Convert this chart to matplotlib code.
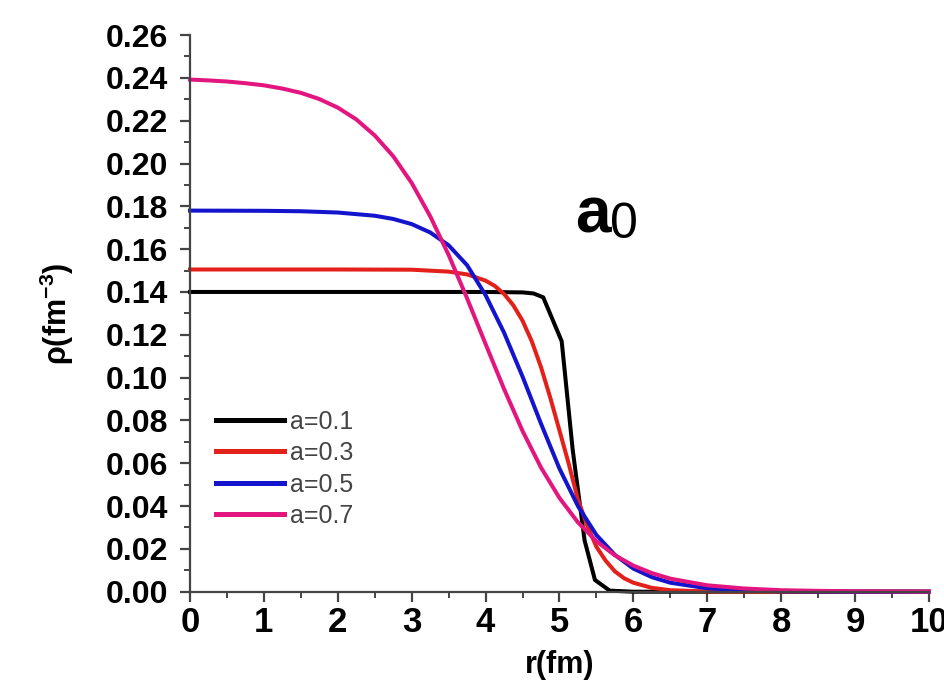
import matplotlib
matplotlib.use("Agg")
import matplotlib.pyplot as plt
from matplotlib.ticker import MultipleLocator

plt.rcParams['font.family'] = ['Liberation Sans', 'DejaVu Sans']
plt.rcParams['mathtext.fontset'] = 'custom'
plt.rcParams['mathtext.bf'] = 'Liberation Sans:bold'
plt.rcParams['mathtext.rm'] = 'Liberation Sans'

# values
r_a01 = [0, 1, 2, 3, 4, 4.5, 4.65, 4.78, 5.03, 5.18, 5.34, 5.48, 5.68, 6, 10]
rho_a01 = [0.140, 0.140, 0.140, 0.140, 0.140, 0.1398, 0.1393, 0.1375, 0.117, 0.066, 0.024, 0.0055,
           0.0005, 0.0, 0.0]

r_a03 = [0, 1, 2, 3, 3.5, 3.75, 4.0, 4.125, 4.25, 4.375, 4.5, 4.625, 4.75, 4.875, 5.0, 5.125,
         5.25, 5.375, 5.5, 5.625, 5.75, 5.875, 6.0, 6.25, 6.5, 7, 8, 10]
rho_a03 = [0.1505, 0.1505, 0.1505, 0.1504, 0.1495, 0.1482, 0.1453, 0.1428, 0.1391, 0.1338, 0.1266,
           0.1170, 0.1049, 0.0907, 0.0753, 0.0598, 0.043, 0.031, 0.021, 0.0145, 0.0095, 0.0063,
           0.0042, 0.0018, 0.0007, 0.0001, 0.0, 0.0]

r_a05 = [0, 1, 1.5, 2, 2.5, 2.75, 3.0, 3.25, 3.5, 3.75, 4.0, 4.25, 4.5, 4.75, 5.0, 5.25, 5.5, 5.75,
         6.0, 6.25, 6.5, 7, 7.5, 8, 9, 10]
rho_a05 = [0.178, 0.1779, 0.1777, 0.1771, 0.1756, 0.1741, 0.1717, 0.1678, 0.1618, 0.1525, 0.1385,
           0.121, 0.1005, 0.0785, 0.0575, 0.040, 0.0265, 0.0172, 0.0108, 0.0068, 0.0042, 0.0016,
           0.0006, 0.0002, 0.00003, 0.0]

r_a07 = [0, 0.25, 0.5, 0.75, 1.0, 1.25, 1.5, 1.75, 2.0, 2.25, 2.5, 2.75, 3.0, 3.25, 3.5, 3.75, 4.0,
         4.25, 4.5, 4.75, 5.0, 5.25, 5.5, 5.75, 6.0, 6.25, 6.5, 7.0, 7.5, 8, 8.5, 9, 10]
rho_a07 = [0.2392, 0.2388, 0.2383, 0.2375, 0.2365, 0.2350, 0.2330, 0.2301, 0.2261, 0.2206, 0.2131,
           0.2034, 0.1909, 0.1754, 0.1573, 0.1370, 0.1157, 0.0947, 0.0751, 0.0580, 0.0438, 0.0324,
           0.0236, 0.0170, 0.0122, 0.0087, 0.0061, 0.0030, 0.0015, 0.0007, 0.0004, 0.0002, 0.0]

labels = ['a=0.1', 'a=0.3', 'a=0.5', 'a=0.7']
colors = ['#000000', '#e4201b', '#1414cc', '#e2167e']

fig = plt.figure(figsize=(9.44, 6.87), dpi=100)
ax = fig.add_axes([0.2013, 0.1387, 0.7827, 0.8103])

series = [(r_a01, rho_a01), (r_a03, rho_a03), (r_a05, rho_a05), (r_a07, rho_a07)]
for (r, rho), lab, c in zip(series, labels, colors):
    ax.plot(r, rho, color=c, lw=2.9, label=lab, solid_joinstyle='round', clip_on=False)

ax.set_xlim(0, 10)
ax.set_ylim(0, 0.26)
ax.xaxis.set_major_locator(MultipleLocator(1))
ax.xaxis.set_minor_locator(MultipleLocator(0.5))
ax.yaxis.set_major_locator(MultipleLocator(0.02))
ax.yaxis.set_minor_locator(MultipleLocator(0.01))
ax.yaxis.set_major_formatter(plt.FormatStrFormatter('%.2f'))

for s in ['top', 'right']:
    ax.spines[s].set_visible(False)
for s in ['left', 'bottom']:
    ax.spines[s].set_color('#444444')
    ax.spines[s].set_linewidth(1.6)

ax.tick_params(which='major', direction='out', length=7, width=1.6, color='#444444')
ax.tick_params(which='minor', direction='out', length=4, width=1.4, color='#444444')
ax.tick_params(axis='x', labelsize=25, pad=3)
ax.tick_params(axis='y', labelsize=23, pad=9)
for t in ax.get_xticklabels() + ax.get_yticklabels():
    t.set_fontweight('bold')

ax.set_xlabel('r(fm)', fontsize=22, fontweight='bold', labelpad=8)
ax.set_ylabel(r'ρ(fm$^{\mathbf{-3}}$)', fontsize=22, fontweight='bold', labelpad=21)

ax.text(5.21, 0.168, 'a', fontsize=46, fontweight='bold')
ax.text(5.68, 0.165, '0', fontsize=36)

leg = ax.legend(loc='upper left', bbox_to_anchor=(0.022, 0.345), frameon=False,
                fontsize=18, handlelength=2.7, handletextpad=0.25, labelspacing=0.3,
                borderaxespad=0)
for t in leg.get_texts():
    t.set_color('#444444')
for h in leg.get_lines():
    h.set_linewidth(3.6)

fig.savefig('out.png', dpi=100)
